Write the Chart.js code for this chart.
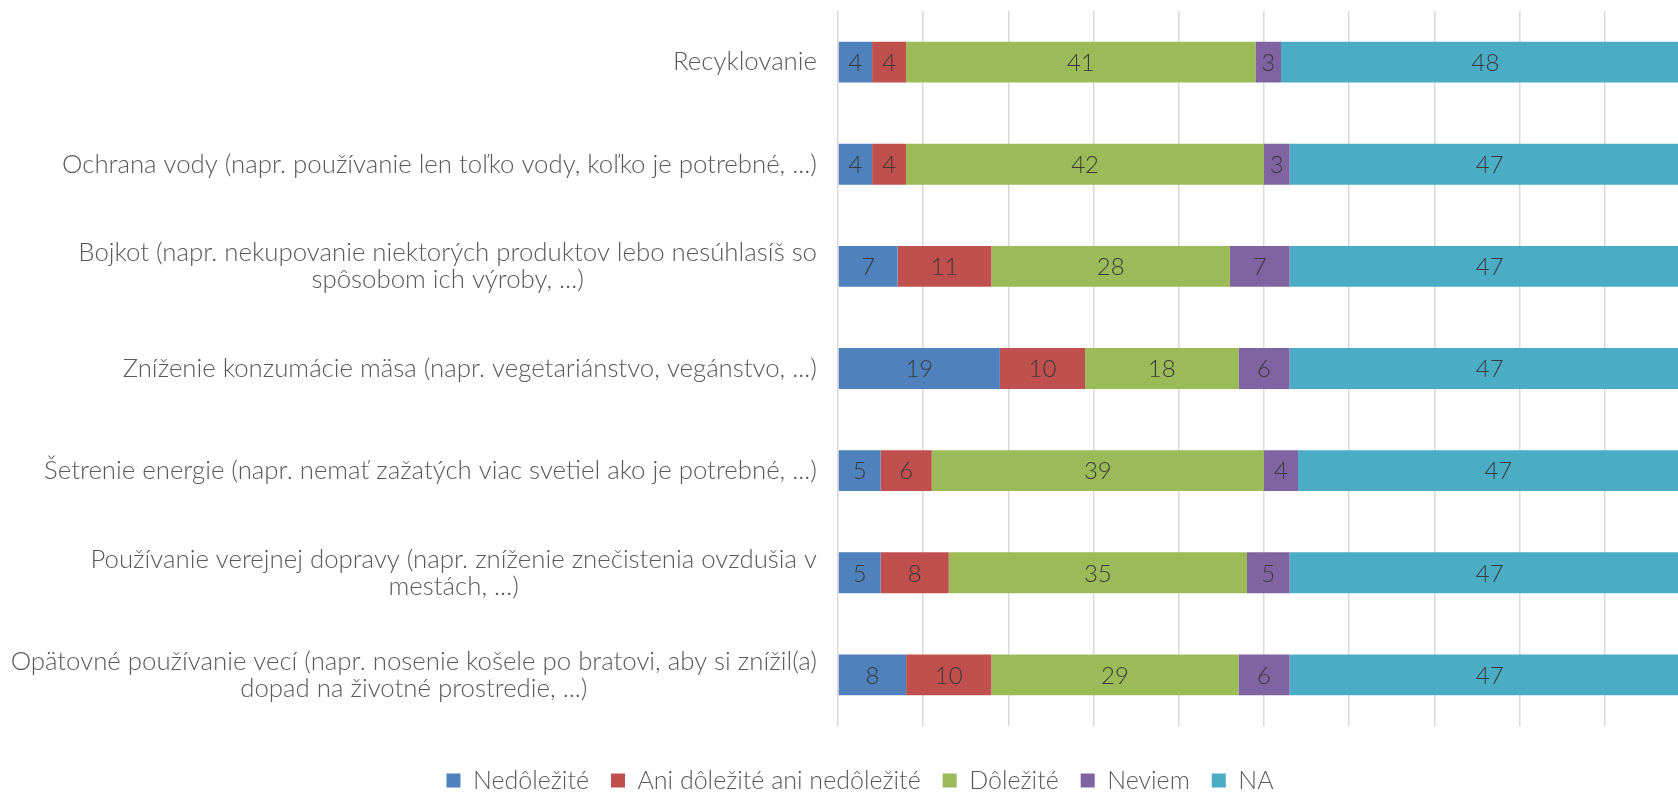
<!DOCTYPE html>
<html>
<head>
<meta charset="utf-8">
<script src="https://cdn.jsdelivr.net/npm/chart.js@4"></script>
<style>
  html, body { margin: 0; padding: 0; background: #fff; overflow: hidden; }
  #wrap { width: 1720px; height: 803px; }
</style>
</head>
<body>
<div id="wrap"><canvas id="chart"></canvas></div>
<script>
const categories = [
  "Recyklovanie",
  "Ochrana vody (napr. používanie len toľko vody, koľko je potrebné, ...)",
  ["Bojkot (napr. nekupovanie niektorých produktov lebo nesúhlasíš so", "spôsobom ich výroby, ...)"],
  "Zníženie konzumácie mäsa (napr. vegetariánstvo, vegánstvo, ...)",
  "Šetrenie energie (napr. nemať zažatých viac svetiel ako je potrebné, ...)",
  ["Používanie verejnej dopravy (napr. zníženie znečistenia ovzdušia v", "mestách, ...)"],
  ["Opätovné používanie vecí (napr. nosenie košele po bratovi, aby si znížil(a)", "dopad na životné prostredie, ...)"],
];

const nedolezite = [4, 4, 7, 19, 5, 5, 8];
const aniAni = [4, 4, 11, 10, 6, 8, 10];
const dolezite = [41, 42, 28, 18, 39, 35, 29];
const neviem = [3, 3, 7, 6, 4, 5, 6];
const na = [48, 47, 47, 47, 47, 47, 47];

const FONT = "Lato, 'Open Sans', sans-serif";

// hand-drawn y labels: block right-aligned, lines centred within block
const yLabels = {
  id: "yLabels",
  afterDraw(chart) {
    const { ctx, chartArea } = chart;
    const y = chart.scales.y;
    ctx.save();
    ctx.font = `300 25.8px ${FONT}`;
    ctx.fillStyle = "#595959";
    ctx.textAlign = "center";
    ctx.textBaseline = "middle";
    const lh = 27;
    categories.forEach((lab, i) => {
      const lines = Array.isArray(lab) ? lab : [lab];
      const w = Math.max(...lines.map((l) => ctx.measureText(l).width));
      const cx = chartArea.left - 21 - w / 2;
      const cy = y.getPixelForTick(i);
      const top = cy - ((lines.length - 1) * lh) / 2;
      lines.forEach((l, k) => ctx.fillText(l, cx, top + k * lh));
    });
    ctx.restore();
  },
};

const barValues = {
  id: "barValues",
  afterDatasetsDraw(chart) {
    const { ctx } = chart;
    ctx.save();
    ctx.font = `300 24px ${FONT}`;
    ctx.fillStyle = "#3a3a3a";
    ctx.textAlign = "center";
    ctx.textBaseline = "middle";
    chart.data.datasets.forEach((ds, di) => {
      chart.getDatasetMeta(di).data.forEach((bar, i) => {
        const v = ds.data[i];
        if (!v) return;
        ctx.fillText(String(v), (bar.x + bar.base) / 2, bar.y + 1);
      });
    });
    ctx.restore();
  },
};

const mk = (label, data, color) => ({
  label, data, backgroundColor: color, borderWidth: 0,
  barPercentage: 0.4, categoryPercentage: 1,
});

new Chart(document.getElementById("chart"), {
  type: "bar",
  data: {
    labels: categories,
    datasets: [
      mk("Nedôležité", nedolezite, "#4F81BD"),
      mk("Ani dôležité ani nedôležité", aniAni, "#C0504D"),
      mk("Dôležité", dolezite, "#9BBB59"),
      mk("Neviem", neviem, "#8064A2"),
      mk("NA", na, "#4BACC6"),
    ],
  },
  options: {
    indexAxis: "y",
    responsive: true,
    maintainAspectRatio: false,
    animation: false,
    layout: { padding: { left: 30, right: 30, top: 11, bottom: 0 } },
    plugins: {
      tooltip: { enabled: false },
      legend: {
        position: "bottom",
        labels: {
          font: { family: FONT, size: 25, weight: 300 },
          color: "#595959",
          boxWidth: 14,
          boxHeight: 14,
          padding: 22,
        },
      },
    },
    scales: {
      x: {
        stacked: true,
        min: 0,
        max: 100,
        ticks: { display: false, stepSize: 10 },
        grid: { color: "#d9d9d9", lineWidth: 1.5, drawTicks: false },
        border: { display: false },
        afterFit: (s) => { s.height = 20; },
      },
      y: {
        stacked: true,
        ticks: { display: false },
        grid: { display: false, drawTicks: false },
        border: { display: false },
        afterFit: (s) => { s.width = 808; },
      },
    },
  },
  plugins: [yLabels, barValues],
});
</script>
</body>
</html>
